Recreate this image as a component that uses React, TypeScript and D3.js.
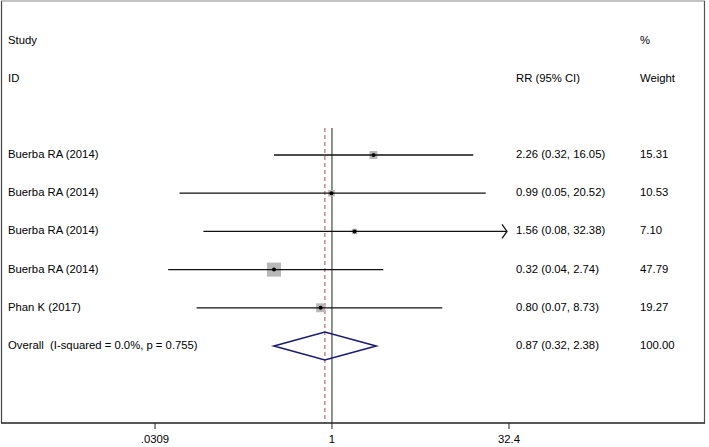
import React from "react";
import * as d3 from "d3";

const studies = ["Buerba RA (2014)", "Buerba RA (2014)", "Buerba RA (2014)", "Buerba RA (2014)", "Phan K (2017)"];
const rr = [2.26, 0.99, 1.56, 0.32, 0.8];
const lower = [0.32, 0.05, 0.08, 0.04, 0.07];
const upper = [16.05, 20.52, 32.38, 2.74, 8.73];
const weights = [15.31, 10.53, 7.1, 47.79, 19.27];
const ciLabels = ["2.26 (0.32, 16.05)", "0.99 (0.05, 20.52)", "1.56 (0.08, 32.38)", "0.32 (0.04, 2.74)", "0.80 (0.07, 8.73)"];
const weightLabels = ["15.31", "10.53", "7.10", "47.79", "19.27"];
const overallLabel = "Overall  (I-squared = 0.0%, p = 0.755)";
const overall = { est: 0.87, lo: 0.32, hi: 2.38 };
const overallCI = "0.87 (0.32, 2.38)";
const overallWeight = "100.00";
const tickValues = [0.0309, 1, 32.4];
const tickLabels = [".0309", "1", "32.4"];

const W = 709;
const H = 447;

export default function App() {
  const x = d3.scaleLog().domain([0.0309, 32.4]).range([155, 509]);
  const rowY = d3.scaleLinear().domain([0, 1]).range([155, 193.2]);
  const axisY = 423;
  const lineTop = 128;
  const font = "'Liberation Sans', Arial, sans-serif";
  const fs = 11.3;
  const boxK = 2.03;
  const textX = 8;
  const ciX = 516;
  const wX = 640;

  return (
    <svg width={W} height={H} style={{ position: "absolute", left: 0, top: 0, background: "#fff" }} fontFamily={font} fontSize={fs}>
      <rect x={0} y={0} width={W} height={H} fill="#fff" />
      {/* frame */}
      <line x1={1.5} y1={1} x2={1.5} y2={axisY} stroke="#444" strokeWidth={1.2} />
      <line x1={1} y1={1} x2={705} y2={1} stroke="#888" strokeWidth={1.2} />
      <line x1={704.5} y1={1} x2={704.5} y2={axisY} stroke="#555" strokeWidth={1.2} />

      {/* headers */}
      <text x={textX} y={41} dominantBaseline="middle">Study</text>
      <text x={textX} y={79} dominantBaseline="middle">ID</text>
      <text x={ciX} y={79} dominantBaseline="middle">RR (95% CI)</text>
      <text x={wX} y={41} dominantBaseline="middle">%</text>
      <text x={wX} y={79} dominantBaseline="middle">Weight</text>

      {/* null line */}
      <line x1={x(1)} x2={x(1)} y1={lineTop} y2={axisY} stroke="#222" strokeWidth={1} />
      {/* overall dashed line */}
      <line x1={x(overall.est)} x2={x(overall.est)} y1={lineTop} y2={axisY} stroke="#b85868" strokeWidth={1.1} strokeDasharray="4,3" />

      {studies.map((s, i) => {
        const y = rowY(i);
        const side = boxK * Math.sqrt(weights[i]);
        const hiClip = upper[i] >= 0.99 * 32.4;
        const xHi = hiClip ? x(32.4) - 2 : x(upper[i]);
        return (
          <g key={i}>
            <text x={textX} y={y} dominantBaseline="middle">{s}</text>
            <rect x={x(rr[i]) - side / 2} y={y - side / 2} width={side} height={side} fill="#b8b8b8" />
            <line x1={x(lower[i])} x2={xHi} y1={y} y2={y} stroke="#111" strokeWidth={1.3} />
            {hiClip && (
              <path d={`M${xHi - 5},${y - 7} L${xHi},${y} L${xHi - 5},${y + 7}`} fill="none" stroke="#111" strokeWidth={1.3} />
            )}
            <circle cx={x(rr[i])} cy={y} r={2} fill="#000" />
            <text x={ciX} y={y} dominantBaseline="middle">{ciLabels[i]}</text>
            <text x={wX} y={y} dominantBaseline="middle">{weightLabels[i]}</text>
          </g>
        );
      })}

      {/* overall */}
      {(() => {
        const y = rowY(5);
        const hh = 14;
        return (
          <g>
            <text x={textX} y={y} dominantBaseline="middle">{overallLabel.split("  ").join("\u00a0 ")}</text>
            <path
              d={`M${x(overall.lo)},${y} L${x(overall.est)},${y - hh} L${x(overall.hi)},${y} L${x(overall.est)},${y + hh} Z`}
              fill="none"
              stroke="#1c1c6c"
              strokeWidth={1.6}
            />
            <text x={ciX} y={y} dominantBaseline="middle">{overallCI}</text>
            <text x={wX} y={y} dominantBaseline="middle">{overallWeight}</text>
          </g>
        );
      })()}

      {/* axis */}
      <line x1={1} x2={705} y1={axisY} y2={axisY} stroke="#222" strokeWidth={1.6} />
      {tickValues.map((t, i) => (
        <g key={i}>
          <line x1={x(t)} x2={x(t)} y1={axisY} y2={axisY + 6} stroke="#222" strokeWidth={1} />
          <text x={x(t)} y={440} textAnchor="middle" dominantBaseline="middle">{tickLabels[i]}</text>
        </g>
      ))}
    </svg>
  );
}
